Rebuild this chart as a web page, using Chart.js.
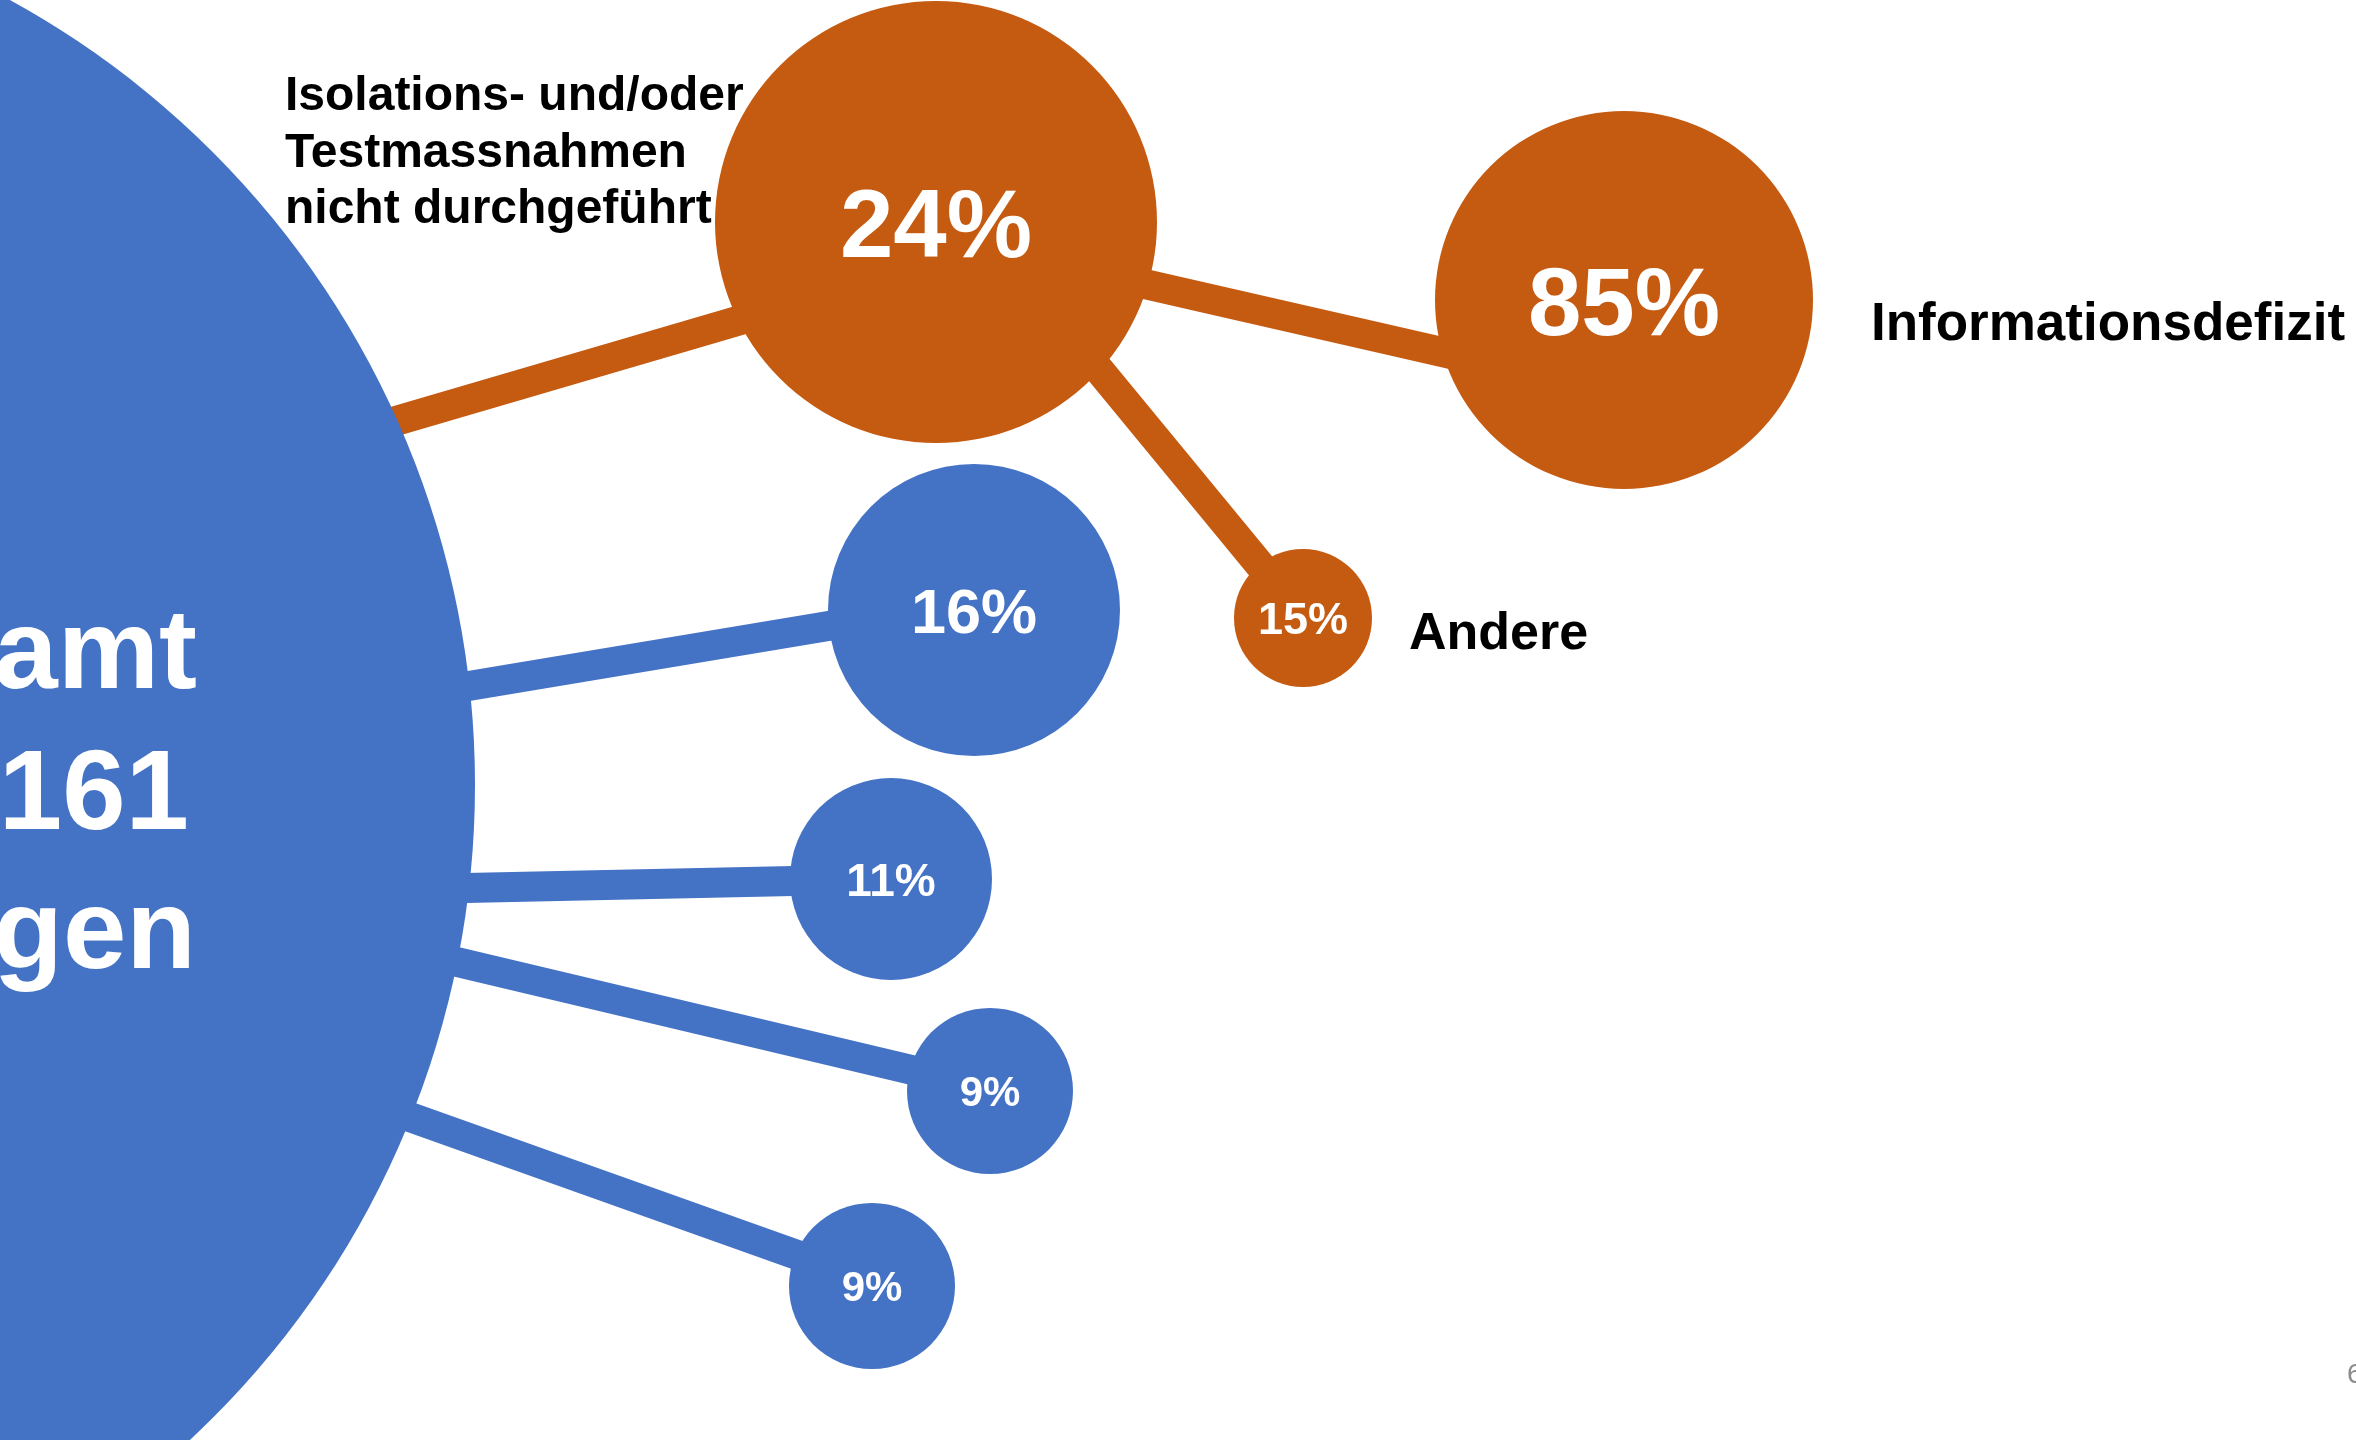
<!DOCTYPE html>
<html lang="de">
<head>
<meta charset="utf-8">
<title>Gründe</title>
<script src="https://cdn.jsdelivr.net/npm/chart.js@4.4.1/dist/chart.umd.min.js"></script>
<style>
  html, body { margin: 0; padding: 0; background: #ffffff; overflow: hidden; }
  canvas { display: block; }
</style>
</head>
<body>
<canvas id="blasen" width="2356" height="1440"></canvas>
<script>
// Werte
const gesamtZeilen = ["Gesamt", "161", "Meldungen"];
const hauptLabels = ["Isolations- und/oder Testmassnahmen nicht durchgeführt", "", "", "", ""];
const hauptWerte = [24, 16, 11, 9, 9];
const unterLabels = ["Informationsdefizit", "Andere"];
const unterWerte = [85, 15];
const seitenNummer = "6";

// Anordnung (Einheiten der Achsen, 0..2356 x 0..1440)
const gesamtLage = { x: -420, y: 785, r: 895 };
const gesamtText = [{ x: 197, y: 688 }, { x: 189, y: 829 }, { x: 196, y: 968 }];
const hauptLage = [
    { x: 936, y: 222, r: 221, schrift: 96 },
    { x: 974, y: 610, r: 146, schrift: 63 },
    { x: 891, y: 879, r: 101, schrift: 46 },
    { x: 990, y: 1091, r: 83, schrift: 42 },
    { x: 872, y: 1286, r: 83, schrift: 42 }
];
const unterLage = [
    { x: 1624, y: 300, r: 189, schrift: 96 },
    { x: 1303, y: 618, r: 69, schrift: 45 }
];
// Verbindungen: [von, nach]
const hauptSpeichen = [
    [{ x: 396, y: 421 }, { x: 737, y: 321 }],
    [{ x: 469, y: 686 }, { x: 828, y: 626 }],
    [{ x: 468, y: 888 }, { x: 791, y: 881 }],
    [{ x: 457, y: 962 }, { x: 912, y: 1070 }],
    [{ x: 410, y: 1117 }, { x: 797, y: 1255 }]
];
const unterSpeichen = [
    [{ x: 1149, y: 285 }, { x: 1442, y: 352 }],
    [{ x: 1101, y: 372 }, { x: 1259, y: 564 }]
];

const BLAU = "#4472C4";
const ORANGE = "#C55A11";
const SCHRIFT = "'Liberation Sans', Arial, sans-serif";

// Linie etwas unter die Kreise verlängern
function verlaengern(a, b, d) {
    const dx = b.x - a.x, dy = b.y - a.y;
    const l = Math.hypot(dx, dy);
    return [
        { x: a.x - dx / l * d, y: a.y - dy / l * d },
        { x: b.x + dx / l * d, y: b.y + dy / l * d }
    ];
}

const datasets = [];

hauptSpeichen.forEach((s, i) => {
    datasets.push({
        type: "line",
        data: verlaengern(s[0], s[1], 14),
        borderColor: i === 0 ? ORANGE : BLAU,
        borderWidth: 30,
        borderCapStyle: "butt",
        pointRadius: 0,
        order: 3
    });
});
unterSpeichen.forEach(s => {
    datasets.push({
        type: "line",
        data: verlaengern(s[0], s[1], 14),
        borderColor: ORANGE,
        borderWidth: 30,
        borderCapStyle: "butt",
        pointRadius: 0,
        order: 3
    });
});

datasets.push({
    type: "bubble",
    data: [gesamtLage],
    backgroundColor: BLAU,
    borderWidth: 0,
    order: 1
});
datasets.push({
    type: "bubble",
    data: hauptWerte.map((v, i) => ({ x: hauptLage[i].x, y: hauptLage[i].y, r: hauptLage[i].r, wert: v })),
    backgroundColor: hauptWerte.map((v, i) => i === 0 ? ORANGE : BLAU),
    borderWidth: 0,
    order: 1
});
datasets.push({
    type: "bubble",
    data: unterWerte.map((v, i) => ({ x: unterLage[i].x, y: unterLage[i].y, r: unterLage[i].r, wert: v })),
    backgroundColor: ORANGE,
    borderWidth: 0,
    order: 1
});

const beschriftung = {
    id: "beschriftung",
    afterDatasetsDraw(chart) {
        const ctx = chart.ctx;
        const sx = chart.scales.x, sy = chart.scales.y;
        const px = v => sx.getPixelForValue(v);
        const py = v => sy.getPixelForValue(v);

        ctx.save();
        // Prozentwerte in den Kreisen
        ctx.fillStyle = "#ffffff";
        ctx.textAlign = "center";
        ctx.textBaseline = "alphabetic";
        hauptWerte.forEach((v, i) => {
            const l = hauptLage[i];
            ctx.font = `bold ${l.schrift}px ${SCHRIFT}`;
            ctx.fillText(v + "%", px(l.x), py(l.y) + l.schrift * 0.36);
        });
        unterWerte.forEach((v, i) => {
            const l = unterLage[i];
            ctx.font = `bold ${l.schrift}px ${SCHRIFT}`;
            ctx.fillText(v + "%", px(l.x), py(l.y) + l.schrift * 0.36);
        });

        // Gesamtkreis
        ctx.font = `bold 114px ${SCHRIFT}`;
        ctx.textAlign = "right";
        gesamtZeilen.forEach((z, i) => {
            ctx.fillText(z, px(gesamtText[i].x), py(gesamtText[i].y));
        });

        // Kategorien
        ctx.fillStyle = "#000000";
        ctx.textAlign = "left";
        ctx.font = `bold 48px ${SCHRIFT}`;
        ["Isolations- und/oder", "Testmassnahmen", "nicht durchgeführt"].forEach((z, i) => {
            ctx.fillText(z, px(285), py(110 + i * 56.5));
        });
        ctx.font = `bold 53px ${SCHRIFT}`;
        ctx.fillText(unterLabels[0], px(1871), py(340));
        ctx.font = `bold 52px ${SCHRIFT}`;
        ctx.fillText(unterLabels[1], px(1409), py(649));

        // Seitenzahl
        ctx.fillStyle = "#8c8c8c";
        ctx.font = `28px ${SCHRIFT}`;
        ctx.fillText(seitenNummer, px(2347), py(1383));
        ctx.restore();
    }
};

new Chart(document.getElementById("blasen").getContext("2d"), {
    type: "bubble",
    data: { datasets: datasets },
    options: {
        responsive: false,
        devicePixelRatio: 1,
        animation: false,
        events: [],
        layout: { padding: 0, autoPadding: false },
        plugins: {
            legend: { display: false },
            tooltip: { enabled: false }
        },
        scales: {
            x: { type: "linear", min: 0, max: 2356, display: false },
            y: { type: "linear", min: 0, max: 1440, reverse: true, display: false }
        }
    },
    plugins: [beschriftung]
});
</script>
</body>
</html>
